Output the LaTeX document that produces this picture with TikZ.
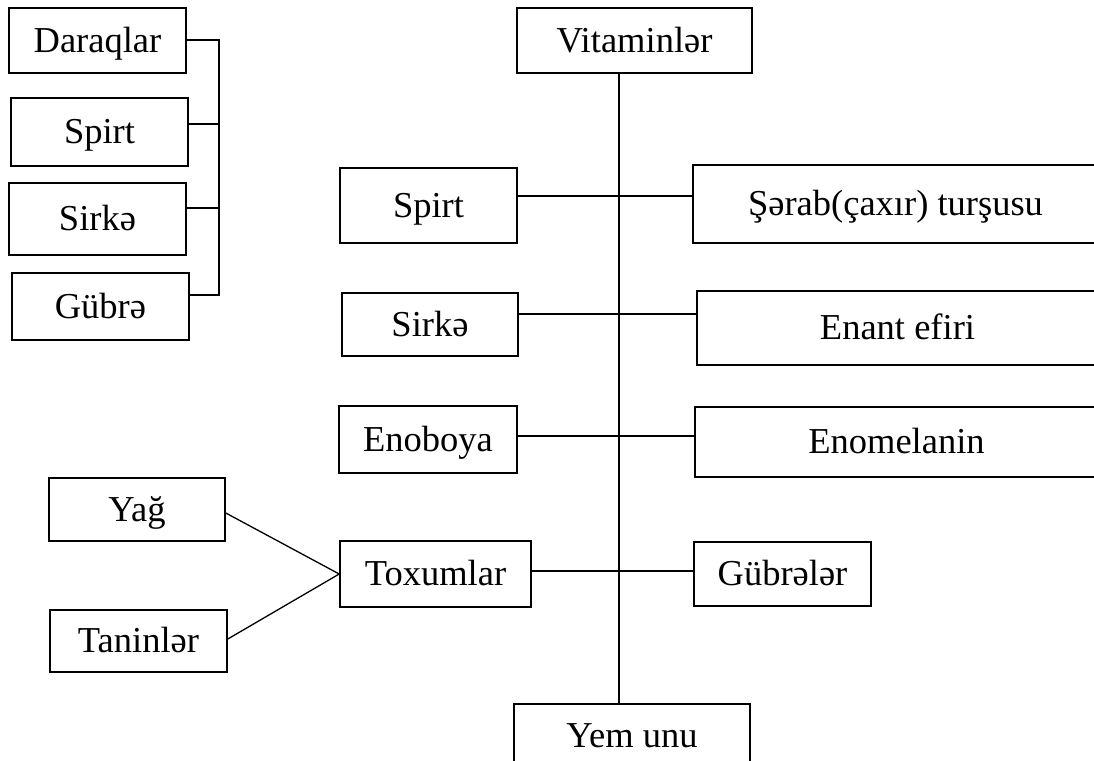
\documentclass[tikz,border=0pt]{standalone}
\usepackage{fontspec}
\setmainfont{Liberation Serif}
\tikzset{
  bx/.style={draw, line width=1.6pt, inner sep=0pt, font=\fontsize{36.5}{40}\selectfont,
    text height=27.4pt, text depth=3.6pt},
  ln/.style={line width=1.3pt}
}
\begin{document}
\begin{tikzpicture}[x=1pt,y=-1pt]
\useasboundingbox (0,0) rectangle (1094,760);
% left bracket group
\node[bx, minimum width=177, minimum height=65] (daraq) at (97.5,40.5) {Daraqlar};
\node[bx, minimum width=177, minimum height=68] (spirtL) at (99.5,132) {Spirt};
\node[bx, minimum width=177, minimum height=72] (sirkeL) at (97.5,219) {Sirkə};
\node[bx, minimum width=177, minimum height=67] (gubreL) at (100.5,306.5) {Gübrə};
\coordinate (b1) at (219,40);
\coordinate (b2) at (219,124);
\coordinate (b3) at (219,208);
\coordinate (b4) at (219,295);
\draw[ln] (daraq.east |- b1) -- (b1) -- (b4) -- (gubreL.east |- b4);
\draw[ln] (spirtL.east |- b2) -- (b2);
\draw[ln] (sirkeL.east |- b3) -- (b3);
% central column
\node[bx, minimum width=235, minimum height=65] (vit) at (634.5,40.5) {Vitaminlər};
\node[bx, minimum width=236, minimum height=64] (yem) at (632,736) {Yem unu};
\coordinate (axtop) at (619,73);
\draw[ln] (vit.south -| axtop) -- (yem.north -| axtop);
\node[bx, minimum width=177, minimum height=75] (spirtC) at (428.5,205.5) {Spirt};
\node[bx, minimum width=405, minimum height=78] (sarab) at (895.5,204) {Şərab(çaxır) turşusu};
\node[bx, minimum width=176, minimum height=63] (sirkeC) at (430,324.5) {Sirkə};
\node[bx, minimum width=401, minimum height=74] (enant) at (897.5,328) {Enant efiri};
\node[bx, minimum width=178, minimum height=67] (enoboya) at (428,439.5) {Enoboya};
\node[bx, minimum width=403, minimum height=70] (enomel) at (896.5,442) {Enomelanin};
\node[bx, minimum width=191, minimum height=66] (toxum) at (435.5,574) {Toxumlar};
\node[bx, minimum width=177, minimum height=64] (gubreler) at (782.5,574) {Gübrələr};
\coordinate (r1) at (619,196);
\coordinate (r2) at (619,314);
\coordinate (r3) at (619,436);
\coordinate (r4) at (619,571);
\draw[ln] (spirtC.east |- r1) -- (sarab.west |- r1);
\draw[ln] (sirkeC.east |- r2) -- (enant.west |- r2);
\draw[ln] (enoboya.east |- r3) -- (enomel.west |- r3);
\draw[ln] (toxum.east |- r4) -- (gubreler.west |- r4);
% seeds
\node[bx, minimum width=176, minimum height=63] (yag) at (137,509.5) {Yağ};
\node[bx, minimum width=177, minimum height=62] (tanin) at (138.5,641) {Taninlər};
\coordinate (yagp) at (225,513);
\coordinate (taninp) at (227,639);
\draw[ln] (yag.east |- yagp) -- (toxum.west) -- (tanin.east |- taninp);
\end{tikzpicture}
\end{document}
